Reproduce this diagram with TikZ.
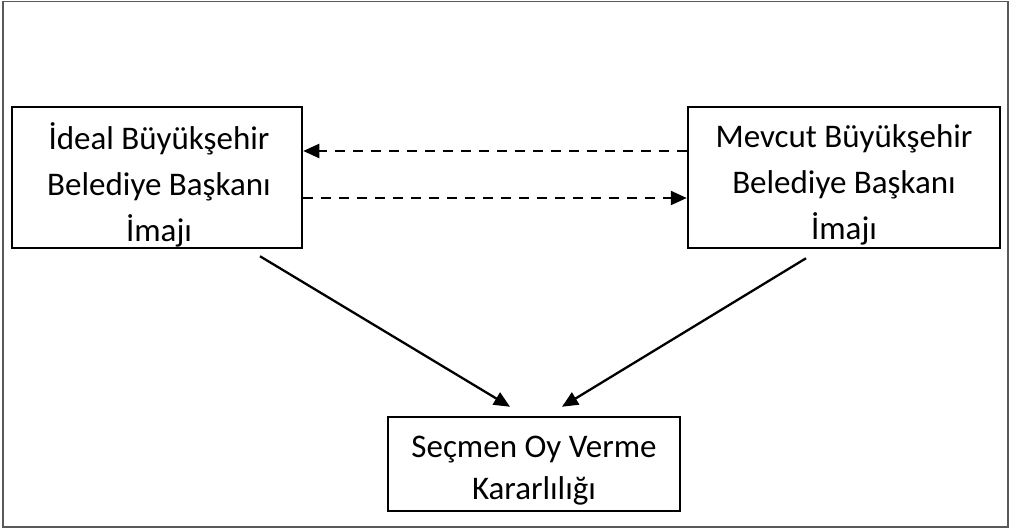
\documentclass[tikz,border=0pt]{standalone}
\usepackage{fontspec}
\setmainfont{Carlito}
\usetikzlibrary{arrows.meta,calc}
\begin{document}
\begin{tikzpicture}[x=1pt,y=-1pt,
  frame/.style={draw=black!65,line width=1.6pt},
  box/.style={draw,line width=2.5pt,inner sep=0pt},
  boxtext/.style={inner sep=0pt,align=center,
    font=\fontsize{33}{46}\selectfont},
  link/.style={line width=2.3pt,-{Triangle[length=16pt,width=14pt]}},
  dashlink/.style={link,dash pattern=on 10pt off 8pt}
]
\useasboundingbox (0,0) rectangle (1010,529);
% outer frame
\draw[frame] (3,1.5) rectangle (1008,527);

% the three concepts: frames, then their wording
\node[box,minimum width=290,minimum height=141] (ideal) at (157,177.5) {};
\node[box,minimum width=312,minimum height=141] (mevcut) at (844,177.5) {};
\node[box,minimum width=292,minimum height=94] (secmen) at (534,464) {};
\node[boxtext] (idealtext) at ($(ideal.center)+(2,7)$)
  {İdeal Büyükşehir\\Belediye Başkanı\\İmajı};
\node[boxtext] (mevcuttext) at ($(mevcut.center)+(0,7)$)
  {Mevcut Büyükşehir\\Belediye Başkanı\\İmajı};
\node[boxtext,font=\fontsize{33}{42}\selectfont] (secmentext)
  at ($(secmen.center)+(0,6.5)$) {Seçmen Oy Verme\\Kararlılığı};

% mutual comparison of the two images
\draw[dashlink] ($(mevcut.west)+(0,-26.5)$) -- ($(ideal.east)+(0,-26.5)$);
\draw[dashlink] ($(ideal.east)+(0,20.5)$) -- ($(mevcut.west)+(0,20.5)$);

% both images feed the voting decision
\coordinate (fromideal) at ($(ideal.south)+(103,7)$);
\coordinate (toleft) at ($(secmen.north)+(-24,-9)$);
\coordinate (frommevcut) at ($(mevcut.south)+(-38,9)$);
\coordinate (toright) at ($(secmen.north)+(28,-9)$);
\draw[link] (fromideal) -- (toleft);
\draw[link] (frommevcut) -- (toright);
\end{tikzpicture}
\end{document}
